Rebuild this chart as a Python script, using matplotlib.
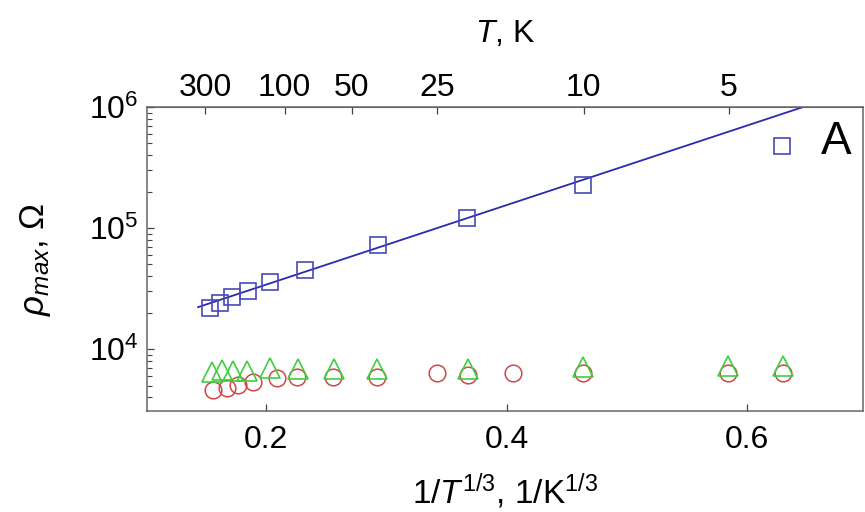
import numpy as np
import matplotlib
matplotlib.use("Agg")
import matplotlib.pyplot as plt
from matplotlib.ticker import LogLocator, NullFormatter

plt.rcParams['font.family'] = ['Liberation Sans', 'DejaVu Sans']
plt.rcParams['mathtext.fontset'] = 'custom'
plt.rcParams['mathtext.rm'] = 'Liberation Sans'
plt.rcParams['mathtext.it'] = 'Liberation Sans:italic'
plt.rcParams['mathtext.bf'] = 'Liberation Sans:bold'

# --- data (x = 1/T^(1/3), y = rho_max in Ohm) ---
sq_x = [0.1534, 0.1617, 0.1717, 0.1850, 0.2033, 0.2324, 0.2931, 0.3671, 0.4636, 0.6291]
sq_y = [21800, 24000, 26900, 30200, 35800, 45000, 72400, 121000, 226000, 476000]

tri_x = [0.1551, 0.1634, 0.1726, 0.1842, 0.2033, 0.2266, 0.2566, 0.2923, 0.3680, 0.4636, 0.5842, 0.6299]
tri_y = [6500, 6750, 6650, 6650, 7000, 6900, 6900, 6800, 6900, 7100, 7200, 7200]

circ_x = [0.1559, 0.1676, 0.1767, 0.1892, 0.2091, 0.2258, 0.2557, 0.2923, 0.3422, 0.3680, 0.4054,
          0.4636, 0.5842, 0.6299]
circ_y = [4580, 4770, 5040, 5330, 5750, 5870, 5870, 5870, 6340, 6090, 6340, 6340, 6340, 6340]

# fit: log10(rho) = a + b * x
fit_a = 3.875
fit_b = 3.286
fit_x_range = [0.1435, 0.66]

x_ticks = [0.2, 0.4, 0.6]
T_ticks = [300, 100, 50, 25, 10, 5]
y_ticks = [1e4, 1e5, 1e6]

fig = plt.figure(figsize=(8.65, 5.12), dpi=100)
ax = fig.add_axes([147/865, 1-411/512, (863-147)/865, (411-107)/512])

fx = np.linspace(fit_x_range[0], fit_x_range[1], 50)
ax.plot(fx, 10**(fit_a + fit_b*fx), color='#2a2ab0', lw=1.3, zorder=2)

ax.plot(circ_x, circ_y, 'o', mfc='none', mec='#d04848', mew=1.1, ms=12, zorder=3)
ax.plot(tri_x, tri_y, '^', mfc='none', mec='#3ecf3e', mew=1.2, ms=14, zorder=4)
ax.plot(sq_x, sq_y, 's', mfc='none', mec='#4848b8', mew=1.2, ms=11, zorder=5)

ax.set_yscale('log')
ax.set_xlim(0.101, 0.6965)
ax.set_ylim(3080, 1e6)

ax.set_xticks(x_ticks)
ax.set_xticklabels([f"{v:.1f}" for v in x_ticks])
ax.set_yticks(y_ticks)
ax.set_yticklabels([r'$10^{%d}$' % int(np.log10(v)) for v in y_ticks])
ax.yaxis.set_minor_locator(LogLocator(base=10, subs=np.arange(2, 10)*1.0, numticks=20))
ax.yaxis.set_minor_formatter(NullFormatter())

ax.tick_params(axis='both', which='major', direction='in', length=5, width=0.9,
               labelsize=23, color='#444444')
ax.tick_params(axis='y', which='minor', left=True, direction='in', length=3.5, width=0.8,
               color='#444444')
ax.tick_params(axis='x', which='major', pad=10)
ax.tick_params(axis='y', which='major', pad=6)
for s in ax.spines.values():
    s.set_color('#666666')
    s.set_linewidth(1.1)

# top axis in T
top = ax.secondary_xaxis('top')
top.set_xticks([t**(-1/3) for t in T_ticks])
top.set_xticklabels([str(t) for t in T_ticks])
top.tick_params(direction='in', length=5, width=0.9, labelsize=23, color='#444444', pad=3)
top.spines['top'].set_color('#666666')
top.set_xlabel(r'$T$, K', fontsize=23, labelpad=22)

ax.set_xlabel(r'$\mathit{1/T}^{\mathit{1/3}}$, 1/K$^{1/3}$', fontsize=24, labelpad=12)
ax.set_ylabel(r'$\rho_{max}$, $\Omega$', fontsize=25, labelpad=26)

ax.text(0.962, 0.886, 'A', transform=ax.transAxes, fontsize=33, ha='center', va='center')

fig.savefig('out.png', dpi=100)
